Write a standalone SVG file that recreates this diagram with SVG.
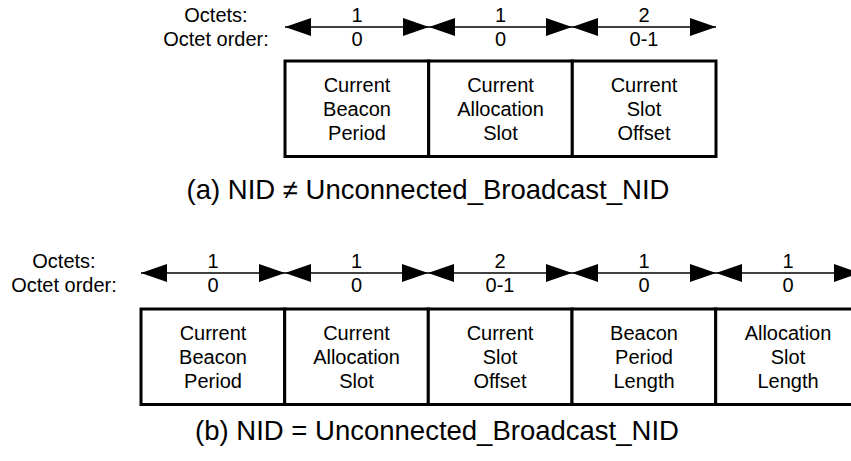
<svg xmlns="http://www.w3.org/2000/svg" width="851" height="461" viewBox="0 0 851 461">
<defs>
<marker id="ah" viewBox="0 0 26 18" markerWidth="26" markerHeight="18" refX="26" refY="9" markerUnits="userSpaceOnUse" orient="auto-start-reverse">
<path d="M0,0 L26,9 L0,18 z" fill="#000"/>
</marker>
<style>
text{font-family:"Liberation Sans",Arial,sans-serif;font-size:20px;fill:#000;text-anchor:middle}
.cap{font-size:27.5px}
.box{fill:#fff;stroke:#000;stroke-width:3}
.arr{stroke:#000;stroke-width:1.6;fill:none;marker-start:url(#ah);marker-end:url(#ah)}
</style>
</defs>
<rect width="851" height="461" fill="#fff"/>

<g id="labels-a">
<text x="216" y="22">Octets:</text>
<text x="216" y="46">Octet order:</text>
</g>
<g id="connectors-a">
<line class="arr" x1="285" y1="27" x2="429" y2="27"/>
<line class="arr" x1="429" y1="27" x2="572" y2="27"/>
<line class="arr" x1="572" y1="27" x2="716" y2="27"/>
</g>
<g id="sizes-a">
<text x="357" y="22">1</text><text x="357" y="46">0</text>
<text x="500.5" y="22">1</text><text x="500.5" y="46">0</text>
<text x="644" y="22">2</text><text x="644" y="46">0-1</text>
</g>
<g id="a-cbp">
<rect class="box" x="285" y="61" width="143.7" height="95.5"/>
<text x="357" y="92">Current</text><text x="357" y="116">Beacon</text><text x="357" y="140">Period</text>
</g>
<g id="a-cas">
<rect class="box" x="428.7" y="61" width="143.6" height="95.5"/>
<text x="500.5" y="92">Current</text><text x="500.5" y="116">Allocation</text><text x="500.5" y="140">Slot</text>
</g>
<g id="a-cso">
<rect class="box" x="572.3" y="61" width="143.7" height="95.5"/>
<text x="644" y="92">Current</text><text x="644" y="116">Slot</text><text x="644" y="140">Offset</text>
</g>
<text class="cap" x="428" y="199">(a) NID ≠ Unconnected_Broadcast_NID</text>

<g id="labels-b">
<text x="64" y="268">Octets:</text>
<text x="64" y="292">Octet order:</text>
</g>
<g id="connectors-b">
<line class="arr" x1="141" y1="273" x2="285" y2="273"/>
<line class="arr" x1="285" y1="273" x2="428" y2="273"/>
<line class="arr" x1="428" y1="273" x2="572" y2="273"/>
<line class="arr" x1="572" y1="273" x2="716" y2="273"/>
<line class="arr" x1="716" y1="273" x2="860" y2="273"/>
</g>
<g id="sizes-b">
<text x="213" y="268">1</text><text x="213" y="292">0</text>
<text x="356.5" y="268">1</text><text x="356.5" y="292">0</text>
<text x="500" y="268">2</text><text x="500" y="292">0-1</text>
<text x="644" y="268">1</text><text x="644" y="292">0</text>
<text x="788" y="268">1</text><text x="788" y="292">0</text>
</g>
<g id="b-cbp">
<rect class="box" x="141" y="309" width="143.7" height="95.5"/>
<text x="213" y="340">Current</text><text x="213" y="364">Beacon</text><text x="213" y="388">Period</text>
</g>
<g id="b-cas">
<rect class="box" x="284.7" y="309" width="143.6" height="95.5"/>
<text x="356.5" y="340">Current</text><text x="356.5" y="364">Allocation</text><text x="356.5" y="388">Slot</text>
</g>
<g id="b-cso">
<rect class="box" x="428.3" y="309" width="143.7" height="95.5"/>
<text x="500" y="340">Current</text><text x="500" y="364">Slot</text><text x="500" y="388">Offset</text>
</g>
<g id="b-bpl">
<rect class="box" x="572" y="309" width="143.7" height="95.5"/>
<text x="644" y="340">Beacon</text><text x="644" y="364">Period</text><text x="644" y="388">Length</text>
</g>
<g id="b-asl">
<rect class="box" x="715.7" y="309" width="143.7" height="95.5"/>
<text x="788" y="340">Allocation</text><text x="788" y="364">Slot</text><text x="788" y="388">Length</text>
</g>
<text class="cap" x="437" y="440">(b) NID = Unconnected_Broadcast_NID</text>
</svg>
